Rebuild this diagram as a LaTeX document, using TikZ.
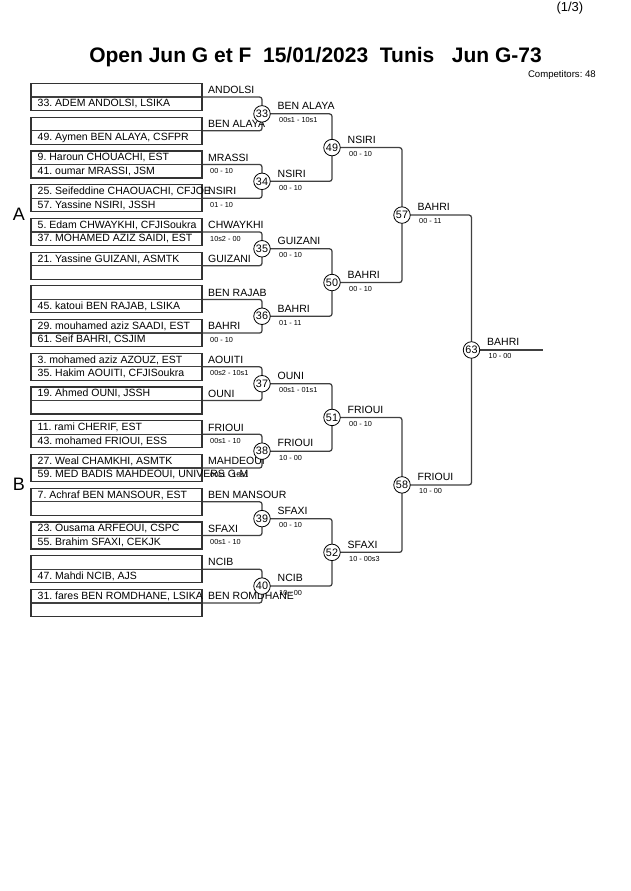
\documentclass[tikz,border=0pt]{standalone}
\usepackage{fontspec}
\setmainfont{Liberation Sans}
\frenchspacing
\pgfdeclarelayer{bglines}
\pgfsetlayers{bglines,main}
\newcommand\bracketbox[6]{%
  \node[boxst] (b#1) at (116.5,#2) {};
  \node[rowtxt] (b#1u) at (37.5,#2-6.75) {#3};
  \node[rowtxt] (b#1d) at (37.5,#2+6.75) {#4};
  \node[lbl] (b#1n) at (208,#2-6.9) {#5};
  \node[score] (b#1s) at (210,#2+6.6) {#6};
}
\newcommand\matchc[5]{%
  \node[circ] (c#1) at (#2,#3) {#1};
  \node[lbl] (c#1n) at (#2+15.5,#3-7.8) {#4};
  \node[score] (c#1s) at (#2+17,#3+6.4) {#5};
}
\tikzset{
  x=1pt, y=-1pt,
  boxst/.style={draw=black!80, line width=1.2pt, minimum width=171pt, minimum height=27pt, inner sep=0pt},
  rowtxt/.style={anchor=west, inner sep=0pt, font=\fontsize{10.5}{12}\selectfont},
  lbl/.style={anchor=west, inner sep=0pt, font=\fontsize{10.5}{12}\selectfont},
  score/.style={anchor=west, inner sep=0pt, font=\fontsize{7.3}{9}\selectfont},
  circ/.style={circle, draw=black, line width=0.8pt, fill=white, minimum size=16.5pt, inner sep=0pt, font=\fontsize{10.8}{12}\selectfont},
  ln/.style={draw=black!75, line width=1.25pt, rounded corners=2.5pt},
}
\begin{document}
\begin{tikzpicture}
\useasboundingbox (0,0) rectangle (630,891);
\begin{pgfonlayer}{bglines}
\fill[white] (0,0) rectangle (630,891);
\end{pgfonlayer}
% header
\node[inner sep=0pt, anchor=east, font=\fontsize{13}{15}\selectfont] (page) at (583.5,8) {(1/3)};
\node[inner sep=0pt, font=\bfseries\fontsize{21}{25}\selectfont] (title) at (315.5,57) {Open Jun G et F\ \ 15/01/2023\ \ Tunis\ \ \ Jun G-73};
\node[inner sep=0pt, anchor=east, font=\fontsize{9.6}{11}\selectfont] (comp) at (596,75.5) {Competitors: 48};
\node[inner sep=0pt, font=\fontsize{18}{20}\selectfont] (poolA) at (19,214.5) {A};
\node[inner sep=0pt, font=\fontsize{18}{20}\selectfont] (poolB) at (19,484.5) {B};
% first column boxes
\bracketbox{0}{97.00}{}{33. ADEM ANDOLSI, LSIKA}{ANDOLSI}{}
\bracketbox{1}{130.73}{}{49. Aymen BEN ALAYA, CSFPR}{BEN ALAYA}{}
\bracketbox{2}{164.46}{9. Haroun CHOUACHI, EST}{41. oumar MRASSI, JSM}{MRASSI}{00 - 10}
\bracketbox{3}{198.19}{25. Seifeddine CHAOUACHI, CFJOE}{57. Yassine NSIRI, JSSH}{NSIRI}{01 - 10}
\bracketbox{4}{231.92}{5. Edam CHWAYKHI, CFJISoukra}{37. MOHAMED AZIZ SAIDI, EST}{CHWAYKHI}{10s2 - 00}
\bracketbox{5}{265.65}{21. Yassine GUIZANI, ASMTK}{}{GUIZANI}{}
\bracketbox{6}{299.38}{}{45. katoui BEN RAJAB, LSIKA}{BEN RAJAB}{}
\bracketbox{7}{333.11}{29. mouhamed aziz SAADI, EST}{61. Seif BAHRI, CSJIM}{BAHRI}{00 - 10}
\bracketbox{8}{366.84}{3. mohamed aziz AZOUZ, EST}{35. Hakim AOUITI, CFJISoukra}{AOUITI}{00s2 - 10s1}
\bracketbox{9}{400.57}{19. Ahmed OUNI, JSSH}{}{OUNI}{}
\bracketbox{10}{434.30}{11. rami CHERIF, EST}{43. mohamed FRIOUI, ESS}{FRIOUI}{00s1 - 10}
\bracketbox{11}{468.03}{27. Weal CHAMKHI, ASMTK}{59. MED BADIS MAHDEOUI, UNIVERS G-M}{MAHDEOUI}{00s1 - 10s1}
\bracketbox{12}{501.76}{7. Achraf BEN MANSOUR, EST}{}{BEN MANSOUR}{}
\bracketbox{13}{535.49}{23. Ousama ARFEOUI, CSPC}{55. Brahim SFAXI, CEKJK}{SFAXI}{00s1 - 10}
\bracketbox{14}{569.22}{}{47. Mahdi NCIB, AJS}{NCIB}{}
\bracketbox{15}{602.95}{31. fares BEN ROMDHANE, LSIKA}{}{BEN ROMDHANE}{}
% matches
\matchc{33}{262}{113.87}{BEN ALAYA}{00s1 - 10s1}
\matchc{34}{262}{181.33}{NSIRI}{00 - 10}
\matchc{35}{262}{248.78}{GUIZANI}{00 - 10}
\matchc{36}{262}{316.25}{BAHRI}{01 - 11}
\matchc{37}{262}{383.71}{OUNI}{00s1 - 01s1}
\matchc{38}{262}{451.17}{FRIOUI}{10 - 00}
\matchc{39}{262}{518.63}{SFAXI}{00 - 10}
\matchc{40}{262}{586.09}{NCIB}{10 - 00}
\matchc{49}{332}{147.60}{NSIRI}{00 - 10}
\matchc{50}{332}{282.52}{BAHRI}{00 - 10}
\matchc{51}{332}{417.44}{FRIOUI}{00 - 10}
\matchc{52}{332}{552.36}{SFAXI}{10 - 00s3}
\matchc{57}{402}{215.06}{BAHRI}{00 - 11}
\matchc{58}{402}{484.90}{FRIOUI}{10 - 00}
\matchc{63}{471.5}{349.98}{BAHRI}{10 - 00}
\coordinate (fin) at (543,349.98);
\begin{pgfonlayer}{bglines}
\foreach \i in {0,...,15} {\draw[ln] (b\i.west) -- (b\i.east);}
\draw[ln] (b0.east) -| (c33.center) |- (b1.east);
\draw[ln] (b2.east) -| (c34.center) |- (b3.east);
\draw[ln] (b4.east) -| (c35.center) |- (b5.east);
\draw[ln] (b6.east) -| (c36.center) |- (b7.east);
\draw[ln] (b8.east) -| (c37.center) |- (b9.east);
\draw[ln] (b10.east) -| (c38.center) |- (b11.east);
\draw[ln] (b12.east) -| (c39.center) |- (b13.east);
\draw[ln] (b14.east) -| (c40.center) |- (b15.east);
\draw[ln] (c33.center) -| (c49.center) |- (c34.center);
\draw[ln] (c35.center) -| (c50.center) |- (c36.center);
\draw[ln] (c37.center) -| (c51.center) |- (c38.center);
\draw[ln] (c39.center) -| (c52.center) |- (c40.center);
\draw[ln] (c49.center) -| (c57.center) |- (c50.center);
\draw[ln] (c51.center) -| (c58.center) |- (c52.center);
\draw[ln] (c57.center) -| (c63.center) |- (c58.center);
\draw[ln] (c63.center) -- (fin);
\end{pgfonlayer}
\end{tikzpicture}
\end{document}
